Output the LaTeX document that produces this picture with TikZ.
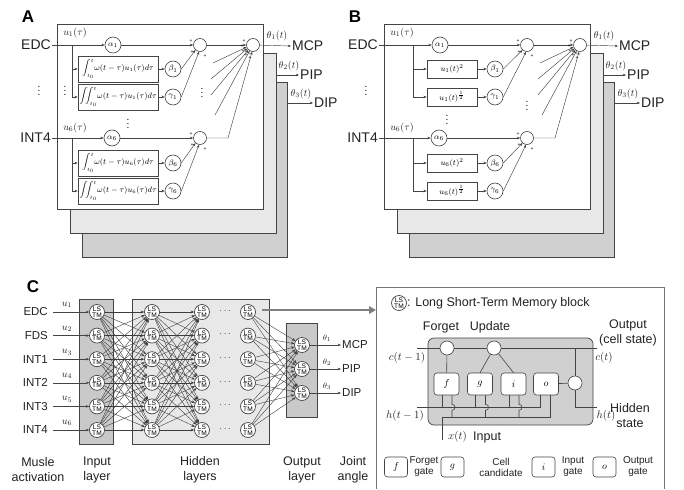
\documentclass[tikz,border=0pt]{standalone}
\usepackage{amsmath}
\usepackage{fontspec}
\setmainfont{Liberation Sans}
\usetikzlibrary{arrows.meta,calc}
\definecolor{gA}{HTML}{E8E8E8}
\definecolor{gB}{HTML}{D0D0D0}
\definecolor{gC}{HTML}{C9C9C9}
\definecolor{lc}{HTML}{444444}
\definecolor{tc}{HTML}{222222}
\tikzset{
 ln/.style={draw=lc,line width=0.45},
 arr/.style={-{Stealth[length=3.2,width=2.6]}},
 lbl/.style={font=\fontsize{14}{16}\selectfont,inner sep=1,text=tc},
 clbl/.style={font=\fontsize{11.5}{13}\selectfont,inner sep=1,text=tc},
 tt/.style={font=\fontsize{12.5}{15}\selectfont,inner sep=1,text=tc},
 tl/.style={font=\fontsize{10}{11}\selectfont,inner sep=0,text=tc,align=center},
 mth/.style={font=\fontsize{10}{12}\selectfont,inner sep=0,text=tc},
 mthL/.style={font=\fontsize{11}{12}\selectfont,inner sep=0,text=tc},
 mths/.style={font=\fontsize{8}{9}\selectfont,inner sep=0,text=tc},
 cir/.style={circle,draw=lc,fill=white,minimum size=16,inner sep=0,line width=0.6,font=\fontsize{8.5}{9}\selectfont},
 sumc/.style={circle,draw=lc,fill=white,minimum size=13,inner sep=0,line width=0.6},
 opbox/.style={draw=lc,fill=white,line width=0.6,inner sep=1,font=\fontsize{7.6}{9}\selectfont},
 plus/.style={font=\fontsize{5}{5}\selectfont,inner sep=0},
 lstm/.style={circle,draw=lc,fill=white,minimum size=15,inner sep=0,line width=0.7,font=\fontsize{6.6}{5.6}\selectfont,align=center},
 gate/.style={draw=lc,fill=white,rounded corners=3,minimum width=25,minimum height=22,inner sep=0,line width=0.6,font=\fontsize{10}{11}\selectfont},
 big/.style={font=\bfseries\fontsize{17}{17}\selectfont,inner sep=0},
 vdts/.style={font=\fontsize{10}{10}\selectfont,inner sep=0},
 net/.style={draw=lc!90!black,line width=0.4,-{Stealth[length=3.4,width=2.8]}},
}
\newcommand\panelAB[2]{%
\begin{scope}[shift={(#2,0)}]
\draw[fill=gB,draw=lc,line width=0.6] (82,82) rectangle (287,257);
\draw[fill=gA,draw=lc,line width=0.6] (70,53) rectangle (276,233);
\draw[fill=white,draw=lc,line width=0.6] (57,24) rectangle (263,209);
\node[big] (#1lab) at (28,17) {#1};
\node[lbl,anchor=east] (#1edc) at (52,45) {EDC};
\node[lbl,anchor=east] (#1int) at (52,138) {INT4};
\node[mth] (#1u1) at (75,33) {$u_1(\tau)$};
\node[mth] (#1u6) at (75,128) {$u_6(\tau)$};
\node[cir] (#1a1) at (113,45) {$\alpha_1$};
\node[cir] (#1a6) at (112,138) {$\alpha_6$};
\node[opbox,minimum width=\bw,minimum height=\bh] (#1f1) at (\bx,69) {\ta};
\node[opbox,minimum width=\bw,minimum height=\bh] (#1f2) at (\bx,97) {\tb};
\node[opbox,minimum width=\bw,minimum height=\bh] (#1f3) at (\bx,163) {\tc};
\node[opbox,minimum width=\bw,minimum height=\bh] (#1f4) at (\bx,191) {\td};
\node[cir] (#1b1) at (\gx,69) {$\beta_1$};
\node[cir] (#1g1) at (\gx,97) {$\gamma_1$};
\node[cir] (#1b6) at (\gx,163) {$\beta_6$};
\node[cir] (#1g6) at (\gx,191) {$\gamma_6$};
\node[sumc] (#1s1) at (200,45) {};
\node[sumc] (#1s6) at (200,138) {};
\node[sumc] (#1o) at (253,45) {};
\coordinate (#1j1) at (\brx,45);
\coordinate (#1j6) at (\brx,138);
\draw[ln,arr] (#1edc) -- (#1a1);
\draw[ln,arr] (#1int) -- (#1a6);
\draw[ln] (#1j1) -- (#1j1 |- #1f2.west);
\draw[ln] (#1j6) -- (#1j6 |- #1f4.west);
\draw[ln,arr] (#1j1 |- #1f1.west) -- (#1f1.west);
\draw[ln,arr] (#1j1 |- #1f2.west) -- (#1f2.west);
\draw[ln,arr] (#1j6 |- #1f3.west) -- (#1f3.west);
\draw[ln,arr] (#1j6 |- #1f4.west) -- (#1f4.west);
\draw[ln,arr] (#1f1) -- (#1b1);
\draw[ln,arr] (#1f2) -- (#1g1);
\draw[ln,arr] (#1f3) -- (#1b6);
\draw[ln,arr] (#1f4) -- (#1g6);
\draw[ln,arr] (#1a1) -- (#1s1);
\draw[ln,arr] (#1b1.east) -- (#1s1.228);
\draw[ln,arr] (#1g1.east) -- (#1s1.262);
\draw[ln,arr] (#1a6) -- (#1s6);
\draw[ln,arr] (#1b6.east) -- (#1s6.228);
\draw[ln,arr] (#1g6.east) -- (#1s6.262);
\draw[ln,arr] (#1s1) -- (#1o);
\coordinate (#1q1) at (213,63);
\coordinate (#1q2) at (211,79);
\coordinate (#1q3) at (211,95);
\coordinate (#1q4) at (215,115);
\draw[ln,arr] (#1q1) -- (#1o.198);
\draw[ln,arr] (#1q2) -- (#1o.212);
\draw[ln,arr] (#1q3) -- (#1o.226);
\draw[ln,arr] (#1q4) -- (#1o.240);
\coordinate (#1k6) at (228,138);
\draw[ln,arr] (#1s6) -- (#1k6) -- (#1o.262);
\node[plus] at (191,41) {+};
\node[plus] at (192,52) {+};
\node[plus] at (205,56) {+};
\node[plus] at (191,134) {+};
\node[plus] at (192,145) {+};
\node[plus] at (205,149) {+};
\node[plus] at (244,41) {+};
\node[plus] at (242,46) {+};
\node[plus] at (243,51) {+};
\node[plus] at (246,55) {+};
\node[plus] at (250,58) {+};
\node[vdts] at (39,88) {$\vdots$};
\node[vdts] at (\mdx,\mdy) {$\vdots$};
\node[vdts] at (\rdx,\rdy) {$\vdots$};
\node[lbl,anchor=west] (#1mcp) at (291,46) {MCP};
\node[lbl,anchor=west] (#1pip) at (299,75) {PIP};
\node[lbl,anchor=west] (#1dip) at (313,103) {DIP};
\coordinate (#1e2) at (276,75);
\coordinate (#1e3) at (287,103);
\draw[ln,arr] (#1o) -- (#1mcp.west);
\draw[ln,arr] (#1e2) -- (#1pip.west);
\draw[ln,arr] (#1e3) -- (#1dip.west);
\node[mth] at (277,36) {$\theta_1(t)$};
\node[mth] at (289,66) {$\theta_2(t)$};
\node[mth] at (301,94) {$\theta_3(t)$};
\end{scope}}
\begin{document}
\begin{tikzpicture}[x=1pt,y=-1pt]
\useasboundingbox (0,0) rectangle (684,489);
% ---------- Panel A ----------
\def\bw{80}\def\bh{26}\def\bx{118}\def\gx{173}\def\brx{72}
\def\mdx{128}\def\mdy{121}\def\rdx{202}\def\rdy{90}
\def\ta{$\displaystyle\int_{t_0}^{t}\!\omega(t-\tau)u_1(\tau)d\tau$}
\def\tb{$\displaystyle\iint_{t_0}^{t}\!\omega(t-\tau)u_1(\tau)d\tau$}
\def\tc{$\displaystyle\int_{t_0}^{t}\!\omega(t-\tau)u_6(\tau)d\tau$}
\def\td{$\displaystyle\iint_{t_0}^{t}\!\omega(t-\tau)u_6(\tau)d\tau$}
\panelAB{A}{0}
\node[vdts] at (65,88) {$\vdots$};
% ---------- Panel B ----------
\def\bw{50}\def\bh{18}\def\gx{168}\def\brx{86}
\def\bx{125}
\def\mdx{120}\def\mdy{117}\def\rdx{200}\def\rdy{103}
\def\ta{\fontsize{8.5}{9}\selectfont$u_1(t)^2$}
\def\tb{\fontsize{8.5}{9}\selectfont$u_1(t)^{\frac{1}{2}}$}
\def\tc{\fontsize{8.5}{9}\selectfont$u_6(t)^2$}
\def\td{\fontsize{8.5}{9}\selectfont$u_6(t)^{\frac{1}{2}}$}
\panelAB{B}{327}
% ---------- Panel C ----------
\node[big] (Clab) at (33,287) {C};
\draw[fill=gC,draw=lc,line width=0.6] (79,299) rectangle (113,444);
\draw[fill=gA,draw=lc,line width=0.6] (132,299) rectangle (269,444);
\draw[fill=gC,draw=lc,line width=0.6] (286,323) rectangle (317,417);
\foreach \i/\m in {1/EDC,2/FDS,3/INT1,4/INT2,5/INT3,6/INT4}{
  \pgfmathsetmacro\yy{312+23.6*(\i-1)}
  \node[lstm] (in\i) at (97,\yy) {LS\\TM};
  \node[lstm] (ha\i) at (152,\yy) {LS\\TM};
  \node[lstm] (hb\i) at (202,\yy) {LS\\TM};
  \node[lstm] (hc\i) at (248,\yy) {LS\\TM};
  \node[vdts,text=lc] (dd\i) at (226,\yy-1) {$\cdots$};
  \node[clbl,anchor=east] (m\i) at (49,\yy) {\m};
  \node[mth] (ul\i) at (67,\yy-7) {$u_{\i}$};
  \draw[ln,arr,shorten <=4] (m\i) -- (in\i);
}
\foreach \k/\n in {1/MCP,2/PIP,3/DIP}{
  \pgfmathsetmacro\yy{345+24*(\k-1)}
  \node[lstm] (out\k) at (302,\yy) {LS\\TM};
  \node[clbl,anchor=west] (jn\k) at (341,\yy) {\n};
  \node[mths] (th\k) at (327,\yy-7) {$\theta_{\k}$};
  \draw[ln,arr] (out\k) -- (jn\k);
}
\foreach \i in {1,...,6}{
  \foreach \j in {1,...,6}{
    \draw[net] (in\i) -- (ha\j);
    \draw[net] (ha\i) -- (hb\j);
  }
  \foreach \k in {1,2,3}{
    \draw[net] (hc\i) -- (out\k);
  }
}
\node[tt,align=center] (bl1) at (38,470) {Musle\\activation};
\node[tt,align=center] (bl2) at (97,470) {Input\\layer};
\node[tt,align=center] (bl3) at (200,470) {Hidden\\layers};
\node[tt,align=center] (bl4) at (302,470) {Output\\layer};
\node[tt,align=center] (bl5) at (353,470) {Joint\\angle};
% thick arrow
\coordinate (tstart) at (262,310);
\coordinate (lstmL) at (376,310);
\draw[draw=gray,line width=2.6,-{Triangle[length=7,width=7.5]}] (tstart) -- (lstmL);
% ---------- LSTM detail ----------
\draw[draw=gray!90!black,line width=0.8] (376,489) -- (376,287) -- (664,287) -- (664,489);
\node[lstm] (lsym) at (399,303) {LS\\TM};
\node[tt,anchor=west] (lsymt) at (406,303) {: Long Short-Term Memory block};
\node[tt] (tforget) at (441,327) {Forget};
\node[tt] (tupdate) at (490,327) {Update};
\node[tt,align=center] (toutput) at (628,333) {Output\\(cell state)};
\draw[rounded corners=6,fill=gB,draw=lc,line width=0.7] (428,338) rectangle (593,425);
\coordinate (cin) at (417,348);
\coordinate (cout) at (597,348);
\draw[ln,line width=0.6] (cin) -- (cout);
\node[sumc,minimum size=14] (fgc) at (447,348) {};
\node[sumc,minimum size=14] (upc) at (494,348) {};
\node[sumc,minimum size=14] (occ) at (575,383) {};
\node[gate] (gf) at (446.5,384) {$f$};
\node[gate] (gg) at (480,384) {$g$};
\node[gate] (gi) at (513.5,384) {$i$};
\node[gate] (go) at (546,384) {$o$};
\draw[ln,line width=0.6] (gf) -- (fgc);
\draw[ln,line width=0.6] (gg.north) -- (upc);
\draw[ln,line width=0.6] (gi.north) -- (upc);
\draw[ln,line width=0.6] (go) -- (occ);
\coordinate (ctap) at (575,348);
\coordinate (hcorner) at (575,407);
\coordinate (hout) at (597,407);
\draw[ln,line width=0.6] (ctap) -- (occ);
\draw[ln,line width=0.6] (occ) -- (hcorner) -- (hout);
\coordinate (hin) at (417,407);
\draw[ln,line width=0.6] (hin) -| ([xshift=-6]go.south);
\foreach \g in {gf,gg,gi}{
  \draw[ln,line width=0.6] ([xshift=-4.5]\g.south) -- ++(0,12);
  \draw[ln,line width=0.6] ([xshift=5.5]\g.south) -- ++(0,9) .. controls +(4,0) and +(4,0) .. ++(0,6) -- ++(0,7);
}
\coordinate (xin) at (442,440);
\coordinate (xj) at (442,417);
\coordinate (xe) at (550,417);
\draw[ln,line width=0.6] (xin) -- (xj) -- (xe) -- ([xshift=4]go.south);
\node[mthL] (lc1) at (407,358) {$c(t-1)$};
\node[mthL] (lc2) at (604,358) {$c(t)$};
\node[mthL] (lh1) at (405,416) {$h(t-1)$};
\node[mthL] (lh2) at (606,416) {$h(t)$};
\node[tt,align=center] (thid) at (630,415.5) {Hidden\\state};
\node[mthL,anchor=west] (lx) at (448,437) {$x(t)$};
\node[tt,anchor=west] (tinput) at (472,437) {Input};
% legend
\node[gate,minimum width=23,minimum height=20] (lgf) at (396,467) {$f$};
\node[tl] (lgft) at (424,467) {Forget\\gate};
\node[gate,minimum width=23,minimum height=20] (lgg) at (452.5,467) {$g$};
\node[tl] (lggt) at (501,467) {Cell\\candidate};
\node[gate,minimum width=23,minimum height=20] (lgi) at (543.5,467) {$i$};
\node[tl] (lgit) at (573,467) {Input\\gate};
\node[gate,minimum width=23,minimum height=20] (lgo) at (604.5,467) {$o$};
\node[tl] (lgot) at (638,467) {Output\\gate};
\end{tikzpicture}
\end{document}
